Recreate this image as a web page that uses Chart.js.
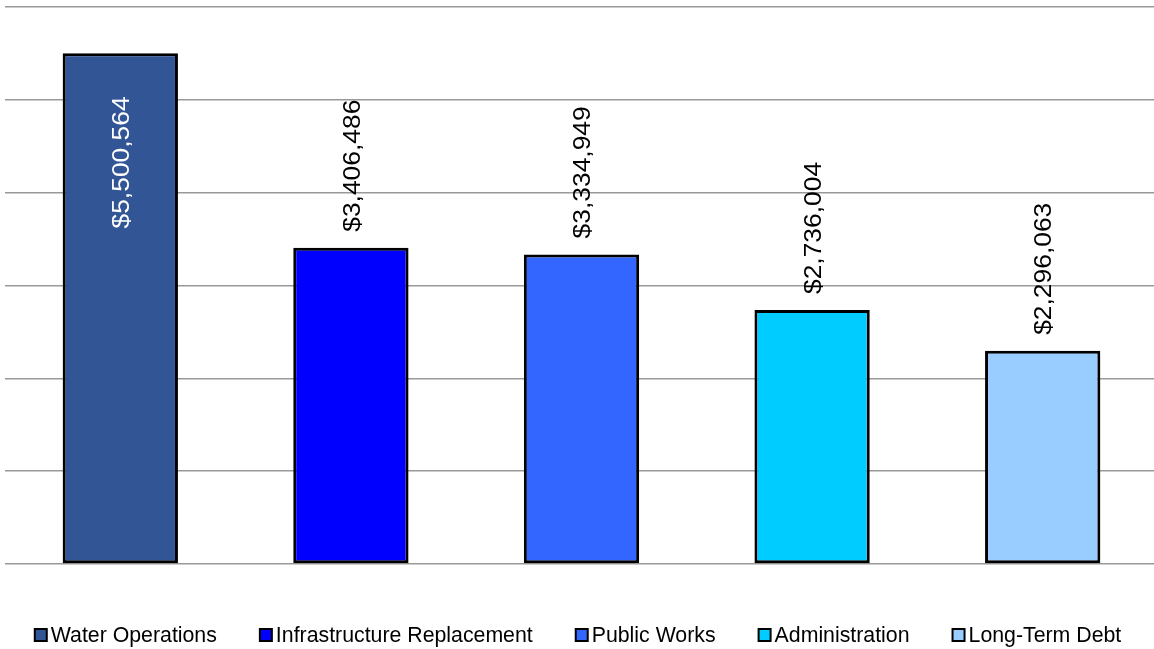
<!DOCTYPE html>
<html>
<head>
<meta charset="utf-8">
<script src="https://cdn.jsdelivr.net/npm/chart.js@4"></script>
<style>
  html, body { margin: 0; padding: 0; background: #fff; overflow: hidden; }
  #wrap { position: relative; width: 1158px; height: 649px; }
</style>
</head>
<body>
<div id="wrap"><canvas id="c"></canvas></div>
<script>
// Budget by department
const categories = ['Water Operations', 'Infrastructure Replacement', 'Public Works', 'Administration', 'Long-Term Debt'];
const amounts = [5500564, 3406486, 3334949, 2736004, 2296063];
const barColors = ['#325596', '#0000FF', '#3366FF', '#00CCFF', '#99CCFF'];
const yMin = 0;
const yMax = 6000000;
const yStep = 1000000;

const FONT = '"Liberation Sans", Arial, sans-serif';

function money(v) {
  return '$' + v.toLocaleString('en-US');
}

// Rotated value labels: the tallest bar carries its label inside in white,
// the rest sit just above their bars.
const valueLabels = {
  id: 'valueLabels',
  afterDatasetsDraw(chart) {
    const ctx = chart.ctx;
    const meta = chart.getDatasetMeta(0);
    const maxVal = Math.max(...amounts);
    ctx.save();
    ctx.font = '24px ' + FONT;
    ctx.textBaseline = 'middle';
    meta.data.forEach((bar, i) => {
      const v = amounts[i];
      const inside = v === maxVal;
      ctx.save();
      ctx.translate(bar.x + 1, inside ? bar.y + 43 : bar.y - 16);
      ctx.rotate(-Math.PI / 2);
      ctx.scale(1.1, 1);
      ctx.fillStyle = inside ? '#FFFFFF' : '#000000';
      ctx.textAlign = inside ? 'right' : 'left';
      ctx.fillText(money(v), 0, 1);
      ctx.restore();
    });
    ctx.restore();
  }
};

// Legend row along the bottom, one square per category.
const bottomLegend = {
  id: 'bottomLegend',
  afterDraw(chart) {
    const ctx = chart.ctx;
    ctx.save();
    ctx.font = '21.3px ' + FONT;
    ctx.textBaseline = 'middle';
    ctx.textAlign = 'left';
    const box = 12, gap = 4, spacing = 43;
    const widths = categories.map(t => box + gap + ctx.measureText(t).width);
    const total = widths.reduce((a, b) => a + b, 0) + spacing * (categories.length - 1);
    let x = 578 - total / 2;
    const cy = 635;
    categories.forEach((t, i) => {
      ctx.fillStyle = barColors[i];
      ctx.fillRect(x, cy - box / 2, box, box);
      ctx.lineWidth = 2;
      ctx.strokeStyle = '#000';
      ctx.strokeRect(x, cy - box / 2, box, box);
      ctx.fillStyle = '#000';
      ctx.fillText(t, x + box + gap, cy + 1);
      x += widths[i] + spacing;
    });
    ctx.restore();
  }
};

new Chart(document.getElementById('c'), {
  type: 'bar',
  data: {
    labels: categories,
    datasets: [{
      data: amounts,
      backgroundColor: barColors,
      borderColor: '#000000',
      borderWidth: 3,
      borderSkipped: false,
      categoryPercentage: 1.0,
      barPercentage: 0.5
    }]
  },
  options: {
    responsive: true,
    maintainAspectRatio: false,
    animation: false,
    layout: { padding: { left: 5, right: 0, top: 7, bottom: 85 } },
    plugins: {
      legend: { display: false },
      tooltip: { enabled: false }
    },
    scales: {
      x: {
        display: true,
        grid: { display: false, drawTicks: false },
        border: { display: false },
        ticks: { display: false }
      },
      y: {
        min: yMin,
        max: yMax,
        ticks: { display: false, stepSize: yStep },
        grid: { color: '#999999', lineWidth: 1.5, drawTicks: false },
        border: { display: false }
      }
    }
  },
  plugins: [valueLabels, bottomLegend]
});
</script>
</body>
</html>
